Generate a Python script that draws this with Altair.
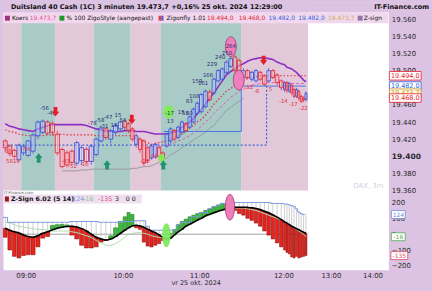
import altair as alt
import pandas as pd

FONT = "DejaVu Sans"
BG = "#dcc3e3"
PINK = "#e3c8da"
TEAL = "#a9cbc7"
UP = "#3d52d6"
DOWN = "#e3283a"
NAVY = "#2b2b74"

# ---------------- data ----------------
bar_times = ["08:45", "08:48", "08:51", "08:54", "08:57", "09:00", "09:03", "09:06", "09:09", "09:12",
             "09:15", "09:18", "09:21", "09:24", "09:27", "09:30", "09:33", "09:36", "09:39", "09:42",
             "09:45", "09:48", "09:51", "09:54", "09:57", "10:00", "10:03", "10:06", "10:09", "10:12",
             "10:15", "10:18", "10:21", "10:24", "10:27", "10:30", "10:33", "10:36", "10:39", "10:42",
             "10:45", "10:48", "10:51", "10:54", "10:57", "11:00", "11:03", "11:06", "11:09", "11:12",
             "11:15", "11:18", "11:21", "11:24", "11:27", "11:30", "11:33", "11:36", "11:39", "11:42",
             "11:45", "11:48", "11:51", "11:54", "11:57", "12:00", "12:03", "12:06", "12:09", "12:12",
             "12:15", "12:18", "12:21", "12:24", "12:27"]
open_pts = [19418, 19412, 19407, 19396, 19404, 19401, 19406, 19424, 19428, 19440,
            19438, 19426, 19408, 19404, 19406, 19392, 19395, 19408, 19394, 19402,
            19418, 19432, 19420, 19428, 19432, 19441, 19438, 19432, 19414, 19420,
            19418, 19410, 19398, 19400, 19410, 19404, 19412, 19418, 19430, 19422,
            19428, 19438, 19434, 19440, 19450, 19452, 19458, 19475, 19474, 19488,
            19490, 19498, 19505, 19516, 19512, 19492, 19500, 19490, 19488, 19498,
            19494, 19488, 19500, 19495, 19488, 19478, 19486, 19476, 19483, 19478,
            19470, 19476, 19470, 19468, 19466]
close_pts = [19410, 19403, 19400, 19413, 19412, 19418, 19425, 19440, 19441, 19427,
             19428, 19404, 19388, 19390, 19393, 19416, 19410, 19394, 19412, 19420,
             19433, 19422, 19430, 19436, 19440, 19434, 19430, 19420, 19424, 19408,
             19392, 19395, 19412, 19414, 19400, 19398, 19426, 19432, 19420, 19434,
             19440, 19430, 19446, 19455, 19462, 19472, 19476, 19466, 19490, 19500,
             19502, 19510, 19514, 19500, 19496, 19500, 19492, 19498, 19500, 19490,
             19484, 19500, 19492, 19486, 19480, 19486, 19477, 19485, 19474, 19470,
             19478, 19468, 19464, 19466, 19473.7]
high_pts = [19420, 19414, 19409, 19415, 19414, 19419, 19427, 19442, 19443, 19442,
            19441, 19430, 19410, 19407, 19408, 19418, 19413, 19411, 19414, 19422,
            19436, 19434, 19432, 19438, 19442, 19443, 19440, 19434, 19426, 19422,
            19420, 19412, 19414, 19416, 19412, 19406, 19428, 19434, 19432, 19436,
            19442, 19440, 19448, 19457, 19464, 19474, 19478, 19478, 19492, 19502,
            19504, 19512, 19516, 19519, 19514, 19503, 19502, 19500, 19502, 19500,
            19496, 19503, 19502, 19497, 19490, 19488, 19488, 19487, 19485, 19480,
            19480, 19478, 19472, 19470, 19476]
low_pts = [19405, 19400, 19397, 19394, 19401, 19399, 19403, 19420, 19426, 19425,
           19424, 19401, 19386, 19387, 19390, 19389, 19390, 19392, 19390, 19400,
           19416, 19419, 19415, 19425, 19430, 19431, 19427, 19417, 19410, 19404,
           19389, 19392, 19396, 19397, 19398, 19395, 19410, 19415, 19418, 19420,
           19425, 19428, 19432, 19438, 19448, 19450, 19456, 19464, 19472, 19486,
           19488, 19496, 19503, 19498, 19493, 19490, 19490, 19487, 19486, 19487,
           19482, 19486, 19490, 19483, 19477, 19475, 19474, 19474, 19472, 19468,
           19468, 19465, 19462, 19463, 19464]
ma_purple = [19438, 19435, 19434, 19432, 19431, 19430, 19429, 19432, 19434, 19436,
             19437, 19437, 19437, 19437, 19437, 19437, 19437, 19436, 19434, 19432,
             19431, 19429, 19429, 19429, 19429, 19430, 19430, 19430, 19429, 19429,
             19429, 19428, 19427, 19426, 19426, 19426, 19426, 19427, 19428, 19430,
             19434, 19437, 19440, 19444, 19450, 19455, 19461, 19468, 19474, 19481,
             19488, 19495, 19499, 19502, 19506, 19508, 19511, 19513, 19514, 19515,
             19515, 19514, 19513, 19510, 19508, 19507, 19504, 19503, 19502, 19500,
             19498, 19495, 19492, 19489, 19487]
zigo_red = [19431, 19429, 19428, 19426, 19425, 19424, 19424, 19424, 19424, 19425,
            19425, 19425, 19426, 19425, 19425, 19425, 19425, 19425, 19425, 19424,
            19424, 19424, 19424, 19424, 19424, 19424, 19424, 19424, 19421, 19420,
            19417, 19416, 19414, 19415, 19416, 19417, 19418, 19420, 19422, 19424,
            19426, 19429, 19433, 19436, 19440, 19443, 19448, 19454, 19461, 19466,
            19471, 19476, 19479, 19483, 19486, 19488, 19491, 19492, 19493, 19494,
            19494, 19494, 19494, 19494, 19494, 19494, 19494, 19494, 19494, 19494,
            19494, 19494, 19494, 19494, 19494]
# pink dashed line, bars 10:27 .. 12:27
zigo_pink = [19411, 19412, 19413, 19414, 19416, 19418, 19419, 19422, 19424, 19427,
             19431, 19435, 19440, 19444, 19450, 19455, 19459, 19464, 19469, 19472,
             19476, 19478, 19480, 19483, 19484, 19485, 19486, 19486, 19486, 19486,
             19486, 19486, 19486, 19486, 19485, 19485, 19485, 19485, 19485, 19485, 19485]
# gray line, bars 09:21 .. 11:30
gray_ma = [19383, 19383, 19383, 19383, 19384, 19384, 19385, 19385, 19385, 19385,
           19385, 19385, 19385, 19385, 19385, 19386, 19386, 19387, 19388, 19388,
           19389, 19391, 19393, 19396, 19398, 19402, 19404, 19407, 19410, 19413,
           19416, 19419, 19422, 19425, 19428, 19433, 19436, 19442, 19448, 19454,
           19457, 19461, 19464, 19468]
blue_solid_t = ["10:32", "11:30", "11:30", "12:28"]
blue_solid_p = [19429, 19429, 19482, 19482]
blue_dot_t = ["08:45", "11:48", "11:48"]
blue_dot_p = [19413, 19413, 19484]

band_start = ["08:45", "08:57", "09:18", "09:42", "10:06", "10:30", "11:30"]
band_end = ["08:57", "09:18", "09:42", "10:06", "10:30", "11:30", "12:31"]
band_kind = ["roze", "groen", "roze", "groen", "roze", "groen", "roze"]

# Z-sign panel
z_signal = [37, 25, 15, 8, -5, -15, -19, -10, 6, 15,
            28, 38, 44, 48, 50, 45, 35, 20, 0, -19,
            -30, -37, -31, -15, 6, 25, 40, 52, 56, 52,
            44, 32, 20, 10, -5, -20, -30, -25, -5, 15,
            30, 50, 62, 75, 88, 100, 115, 125, 135, 145,
            152, 160, 165, 169, 170, 170, 169, 167, 162, 155,
            145, 135, 122, 108, 92, 78, 70, 60, 50, 42,
            35, 28, 20, 12, 6]
z_hist = [-20, -100, -140, -150, -135, -130, -130, -80, -25, -15,
          55, 60, 62, 58, -6, -30, -70, -87, -87, -80,
          -50, -40, -10, 40, 80, 110, 137, 125, 40, 30,
          -50, -75, -81, -70, -60, -40, -20, 5, 30, 60,
          80, 95, 110, 120, 130, 137, 150, 160, 170, 185,
          194, 190, 181, 150, 130, 120, 100, 87, 70, 50,
          20, -6, -30, -55, -80, -100, -115, -125, -144, -150,
          -140, -150, -145, -140, -135]
z_upper = [106, 75, 75, 75, 75, 75, 75, 75, 75, 75,
           75, 75, 75, 75, 80, 80, 80, 80, 80, 80,
           75, 75, 75, 75, 75, 80, 80, 80, 85, 85,
           85, 50, 25, 25, 25, 25, 25, 25, 25, 60,
           75, 75, 75, 110, 110, 137, 137, 160, 175, 180,
           194, 194, 194, 200, 200, 200, 200, 200, 200, 200,
           200, 200, 194, 194, 194, 190, 190, 185, 180, 175,
           160, 140, 130, 125, 124]
z_light = [75, 70, 60, 50, 45, 40, 35, 30, 30, 25,
           20, 20, 20, 20, 15, 10, 0, -10, -20, -40,
           -55, -70, -70, -60, -40, -20, 0, 5, 10, 10,
           5, 0, -10, -15, -20, -20, -15, -10, 0, 15,
           30, 45, 60, 75, 90, 100, 110, 120, 130, 140,
           150, 155, 160, 165, 165, 165, 160, 155, 150, 140,
           130, 120, 110, 100, 90, 80, 70, 60, 50, 40,
           30, 20, 10, 0, -16]

# small number labels on the price chart (time in hours, price)
navy_t = [9.194, 9.265, 9.684, 9.765, 9.847, 9.806, 9.908, 9.949, 10.0, 10.61, 10.62,
          10.766, 10.818, 10.87, 10.87, 10.935, 10.974, 11.047, 11.106, 11.153, 11.25, 11.33, 11.376]
navy_p = [19456, 19450, 19439, 19442, 19446, 19435, 19437, 19448, 19442, 19450, 19441,
          19452, 19450, 19450, 19464, 19470, 19488, 19485, 19495, 19508, 19516, 19521, 19529]
navy_s = ["-56", "-45", "-78", "-58", "-47", "-31", "18", "15", "54", "-17", "13",
          "15", "53", "60", "83", "108", "159", "161", "166", "229", "240", "250", "264"]
red_t = [8.804, 8.859, 9.0, 9.408, 9.48, 9.602, 10.286, 10.416, 11.588, 11.682, 11.847, 12.0, 12.21, 12.42]
red_p = [19406, 19395, 19409, 19395, 19389, 19391, 19395, 19400, 19481, 19476, 19478, 19464, 19461, 19456]
red_s = ["58", "5819", "-54", "-43", "-51", "-16", "-12", "61", "-12", "-8", "5", "-14", "-17", "-22"]

arrow_down_t = [9.306, 10.117, 11.765]
arrow_down_p = [19452, 19443, 19512]
arrow_up_t = [9.133, 9.837, 10.53]
arrow_up_p = [19398, 19390, 19390]
pink_ell_t = [11.376, 11.47]
pink_ell_p = [19528, 19489]
green_blob_t = [10.6]
green_blob_p = [19452]
green_dot_t = [10.506]
green_dot_p = [19398]
zpink_ell_t = [11.365]
zpink_ell_v = [170]
zgreen_ell_t = [10.57]
zgreen_ell_v = [-6]

# ---------------- frames ----------------
def hours(s):
    h, m = s.split(":")
    return int(h) + int(m) / 60.0

bars = pd.DataFrame({"time": bar_times, "o": open_pts, "c": close_pts, "h": high_pts, "l": low_pts,
                     "ma": ma_purple, "zr": zigo_red, "sig": z_signal, "z": z_hist,
                     "zu": z_upper, "lg": z_light})
bars["t"] = bars["time"].map(hours)
bars["t0"] = bars["t"] + 0.004
bars["t1"] = bars["t"] + 0.046
bars["tm"] = bars["t"] + 0.025
bars["lo"] = bars[["o", "c"]].min(axis=1)
bars["hi"] = bars[["o", "c"]].max(axis=1)

pink_df = pd.DataFrame({"tm": bars["tm"].values[34:], "p": zigo_pink})
gray_df = pd.DataFrame({"tm": bars["tm"].values[12:56], "p": gray_ma})
blue_solid = pd.DataFrame({"t": [hours(s) for s in blue_solid_t], "p": blue_solid_p,
                           "seq": list(range(len(blue_solid_t)))})
blue_dot = pd.DataFrame({"t": [hours(s) for s in blue_dot_t], "p": blue_dot_p,
                         "seq": list(range(len(blue_dot_t)))})
bands = pd.DataFrame({"t0": [hours(s) for s in band_start], "t1": [hours(s) for s in band_end],
                      "kind": band_kind})
navy_df = pd.DataFrame({"t": navy_t, "p": navy_p, "s": navy_s})
red_df = pd.DataFrame({"t": red_t, "p": red_p, "s": red_s})
ONE = pd.DataFrame({"a": [0]})

# ---------------- scales / axes ----------------
XS = alt.Scale(domain=[8.75, 9, 10, 11, 12, 13, 14, 14.38],
               range=[0, 23, 121, 198, 283, 331, 373, 389], nice=False, zero=False)
YS = alt.Scale(domain=[19360, 19579.7], nice=False, zero=False)
ZS = alt.Scale(domain=[-225, 275], nice=False, zero=False)

YA = alt.Axis(orient="right", values=list(range(19360, 19561, 20)),
              labelExpr="replace(format(datum.value, ',.0f'), ',', '.')",
              labelFont=FONT, labelFontSize={"condition": {"test": "datum.value == 19400", "value": 7.6}, "value": 7},
              labelColor="#2a2a2a",
              labelFontWeight={"condition": {"test": "datum.value == 19400", "value": "bold"}, "value": "normal"},
              ticks=False, domain=False, grid=False, labelPadding=3, labelFlush=False,
              labelOverlap=False, minExtent=43, maxExtent=43, zindex=0)
ZA = alt.Axis(orient="right", values=[-200, -100, 0, 100, 200],
              labelFont=FONT, labelFontSize=7, labelColor="#2a2a2a",
              ticks=False, domain=False, grid=False, labelPadding=3, labelFlush=False,
              labelOverlap=False, minExtent=43, maxExtent=43, zindex=0)
XA = alt.Axis(values=[9, 10, 11, 12, 13, 14],
              labelExpr="(datum.value < 10 ? '0' : '') + datum.value + ':00'",
              labelFont=FONT, labelFontSize=7, labelColor="#2a2a2a",
              ticks=False, domain=False, grid=False, labelPadding=2, labelFlush=False,
              title="vr 25 okt. 2024", titleFont=FONT, titleFontSize=6.5, titleFontWeight="normal",
              titleColor="#2a2a2a", titlePadding=1, zindex=0)


def X(f):
    return alt.X(f, type="quantitative", scale=XS, axis=None)


def XB(f):
    return alt.X(f, type="quantitative", scale=XS, axis=XA)


def Y(f):
    return alt.Y(f, type="quantitative", scale=YS, axis=YA, title=None)


def Z(f):
    return alt.Y(f, type="quantitative", scale=ZS, axis=ZA, title=None)


def ellipse(rx):
    return f"M0,-1A{rx},1 0 1,1 0,1A{rx},1 0 1,1 0,-1Z"


def box(w, h):
    r = h / w
    return f"M-1,-{r:.3f}H1V{r:.3f}H-1Z"


ARROW_DOWN = "M-0.4,-1H0.4V0H0.8L0,1L-0.8,0H-0.4Z"
ARROW_UP = "M-0.4,1H0.4V0H0.8L0,-1L-0.8,0H-0.4Z"


def ptext(s, x, y, color="#111111", size=6, weight="normal", align="left"):
    return alt.Chart(ONE).mark_text(text=s, font=FONT, fontSize=size, fontWeight=weight, color=color,
                                    align=align, baseline="middle").encode(x=alt.value(x), y=alt.value(y))


def prect(x0, x1, y0, y1, color, stroke="transparent", opacity=1):
    return alt.Chart(ONE).mark_rect(color=color, stroke=stroke, strokeWidth=0.6, opacity=opacity).encode(
        x=alt.value(x0), x2=alt.value(x1), y=alt.value(y0), y2=alt.value(y1))


def tag(value, text, color, fill, yenc, w, h, xc, size):
    d = pd.DataFrame({"v": [value], "s": [text]})
    b = alt.Chart(d).mark_point(shape=box(w, h), size=w * w, filled=True, fill=fill, stroke=color,
                                strokeWidth=0.8, opacity=1).encode(x=alt.value(xc), y=yenc("v"))
    t = alt.Chart(d).mark_text(font=FONT, fontSize=size, color=color, align="center",
                               baseline="middle").encode(x=alt.value(xc), y=yenc("v"), text="s:N")
    return [b, t]


is_up = "datum.c >= datum.o"
is_dn = "datum.c < datum.o"

# ---------------- top panel ----------------
top = [
    alt.Chart(bands).mark_rect(color=PINK).encode(x=X("t0"), x2="t1").transform_filter("datum.kind == 'roze'"),
    alt.Chart(bands).mark_rect(color=TEAL).encode(x=X("t0"), x2="t1").transform_filter("datum.kind == 'groen'"),
    ptext("DAX, 3m", 384, 185, color="#d2d2de", size=7, align="right"),
    alt.Chart(gray_df).mark_line(color="#9b9b9b", strokeWidth=1).encode(x=X("tm"), y=Y("p")),
    alt.Chart(blue_solid).mark_line(color="#4a78e0", strokeWidth=1).encode(x=X("t"), y=Y("p"), order="seq:Q"),
    alt.Chart(blue_dot).mark_line(color="#3f62d8", strokeWidth=1.2, strokeDash=[2, 2]).encode(
        x=X("t"), y=Y("p"), order="seq:Q"),
    alt.Chart(bars).mark_line(color="#e0283a", strokeWidth=1.2, strokeDash=[1.5, 2]).encode(x=X("tm"), y=Y("zr")),
    alt.Chart(pink_df).mark_line(color="#e05cb0", strokeWidth=1, strokeDash=[3, 2]).encode(x=X("tm"), y=Y("p")),
    alt.Chart(bars).mark_line(color="#8e2fc4", strokeWidth=1.6).encode(x=X("tm"), y=Y("ma")),
    alt.Chart(bars).mark_rule(color=UP, strokeWidth=0.7).encode(x=X("tm"), y=Y("l"), y2="h").transform_filter(is_up),
    alt.Chart(bars).mark_rule(color=DOWN, strokeWidth=0.7).encode(x=X("tm"), y=Y("l"), y2="h").transform_filter(is_dn),
    alt.Chart(bars).mark_rect(fill="white", fillOpacity=0.35, stroke=UP, strokeWidth=0.9).encode(
        x=X("t0"), x2="t1", y=Y("lo"), y2="hi").transform_filter(is_up),
    alt.Chart(bars).mark_rect(fill="white", fillOpacity=0.35, stroke=DOWN, strokeWidth=0.9).encode(
        x=X("t0"), x2="t1", y=Y("lo"), y2="hi").transform_filter(is_dn),
    alt.Chart(pd.DataFrame({"t": green_blob_t, "p": green_blob_p})).mark_point(
        shape=ellipse(0.8), size=170, filled=True, color="#7df04a", opacity=0.9).encode(x=X("t"), y=Y("p")),
    alt.Chart(pd.DataFrame({"t": green_dot_t, "p": green_dot_p})).mark_point(
        shape=ellipse(0.8), size=70, filled=True, color="#7df04a", opacity=0.9).encode(x=X("t"), y=Y("p")),
    alt.Chart(pd.DataFrame({"t": pink_ell_t, "p": pink_ell_p})).mark_point(
        shape=ellipse(0.55), size=400, filled=True, fill="#ef7fba", stroke="#9a2a6a", strokeWidth=0.7,
        opacity=1).encode(x=X("t"), y=Y("p")),
    alt.Chart(navy_df).mark_text(font=FONT, fontSize=5.5, color=NAVY).encode(x=X("t"), y=Y("p"), text="s:N"),
    alt.Chart(red_df).mark_text(font=FONT, fontSize=5.5, color="#e03040").encode(x=X("t"), y=Y("p"), text="s:N"),
    alt.Chart(pd.DataFrame({"t": arrow_down_t, "p": arrow_down_p})).mark_point(
        shape=ARROW_DOWN, size=90, filled=True, color="#e0202a", opacity=1).encode(x=X("t"), y=Y("p")),
    alt.Chart(pd.DataFrame({"t": arrow_up_t, "p": arrow_up_p})).mark_point(
        shape=ARROW_UP, size=90, filled=True, color="#1f9470", opacity=1).encode(x=X("t"), y=Y("p")),
]
top += tag(19494.0, "19.494,0", "#e8202c", "white", Y, 32, 8.6, 406, 6.5)
top += tag(19482.0, "19.482,0", "#2f5fe0", "white", Y, 32, 8.6, 406, 6.5)
top += tag(19473.7, "19.473,7", "#c99a2e", "#fff4dc", Y, 32, 8.6, 406, 6.5)
top += tag(19468.0, "19.468,0", "#e8202c", "white", Y, 32, 8.6, 406, 6.5)
# header: title bar and legend row
top += [
    prect(0, 432, 0, 10, BG),
    prect(0, 389, 10, 21, "#f1d8ee"),
    ptext("Duitsland 40 Cash (1C) 3 minuten 19.473,7 +0,16% 25 okt. 2024 12:29:00", 8, 5.2,
          size=6.6, weight="bold"),
    ptext("IT-Finance.com", 430, 5.2, size=6.6, weight="bold", align="right"),
    prect(2, 7, 13.5, 18.5, "#a0307c"),
    ptext("Koers", 9, 16, size=6),
    ptext("19.473,7", 27, 16, color="#e8508a", size=6),
    prect(57, 62, 13.5, 18.5, "#1d9a2a"),
    ptext("% 100 ZigoStyle (aangepast)", 64, 16, size=6),
    prect(157, 160, 13.5, 18.5, "#e04040"),
    prect(160, 162, 13.5, 18.5, "#4060e0"),
    ptext("Zigonfly 1.01", 165, 16, size=6),
    ptext("19.494,0", 206, 16, color="#e8202c", size=6),
    ptext("19.468,0", 238, 16, color="#e8202c", size=6),
    ptext("19.482,0", 268, 16, color="#2f5fe0", size=6),
    ptext("19.482,0", 298, 16, color="#2f5fe0", size=6),
    ptext("19.473,7", 328, 16, color="#d0aa50", size=6),
    prect(358, 363, 13.5, 18.5, "#8f78a8"),
    ptext("Z-sign", 364, 16, size=6),
]
top_chart = alt.layer(*top).properties(width=389, height=190)

# ---------------- bottom panel ----------------
zero_df = pd.DataFrame({"a": [8.75], "b": [12.5], "v": [0]})
is_green = "datum.z >= datum.sig"
is_red = "datum.z < datum.sig"
bottom = [
    alt.Chart(zero_df).mark_rule(color="#8a8a8a", strokeWidth=0.8).encode(x=XB("a"), x2="b", y=Z("v")),
    alt.Chart(bars).mark_rule(color="#a0a0a8", strokeWidth=0.5).encode(x=XB("tm"), y=Z("zu"), y2="sig"),
    alt.Chart(bars).mark_rect(fill="#e8231c", stroke="#7a1010", strokeWidth=0.5).encode(
        x=XB("t0"), x2="t1", y=Z("sig"), y2="z").transform_filter(is_red),
    alt.Chart(bars).mark_rect(fill="#3dbb3d", stroke="#1d6b1d", strokeWidth=0.5).encode(
        x=XB("t0"), x2="t1", y=Z("sig"), y2="z").transform_filter(is_green),
    alt.Chart(bars).mark_line(color="#b4dcae", strokeWidth=1).encode(x=XB("tm"), y=Z("lg")),
    alt.Chart(bars).mark_line(color="#7c98e2", strokeWidth=1, interpolate="step-after").encode(x=XB("t"), y=Z("zu")),
    alt.Chart(bars).mark_line(color="#000000", strokeWidth=1.6, interpolate="monotone").encode(x=XB("tm"), y=Z("sig")),
    alt.Chart(pd.DataFrame({"t": zgreen_ell_t, "v": zgreen_ell_v})).mark_point(
        shape=ellipse(0.35), size=576, filled=True, color="#80e860", opacity=0.95).encode(x=XB("t"), y=Z("v")),
    alt.Chart(pd.DataFrame({"t": zpink_ell_t, "v": zpink_ell_v})).mark_point(
        shape=ellipse(0.36), size=676, filled=True, fill="#ef7fba", stroke="#9a2a6a", strokeWidth=0.7,
        opacity=1).encode(x=XB("t"), y=Z("v")),
]
bottom += tag(124, "124", "#7088e0", "white", Z, 14, 8, 399, 6)
bottom += tag(-16, "-16", "#4fae4f", "white", Z, 14, 8, 399, 6)
bottom += tag(-135, "-135", "#e04a64", "white", Z, 17, 8, 400, 6)
bottom += [
    ptext("IT-Finance.com", 1, 2.2, color="#555555", size=4),
    prect(0, 140, 4, 13, "#efdff0"),
    prect(2, 6, 6, 11, "#a01818"),
    ptext("Z-Sign 6.02 (5 14)", 8, 8.5, size=6.3, weight="bold"),
    ptext("124", 70, 8.5, color="#8094e0", size=6.3),
    ptext("-16", 81, 8.5, color="#80c080", size=6.3),
    ptext("-135", 96, 8.5, color="#e05070", size=6.3),
    ptext("3", 113, 8.5, size=6.3),
    ptext("0 0", 124, 8.5, size=6.3),
    # invisible frame so the canvas covers the whole 432 x 291 window
    prect(0, 432, 80, 101, BG, opacity=0),
]
bottom_chart = alt.layer(*bottom).properties(width=389, height=80)

chart = alt.vconcat(top_chart, bottom_chart, spacing=0, bounds="flush").properties(
    padding={"left": 0, "right": 0, "top": 0, "bottom": 0}
).configure(background=BG).configure_view(stroke="transparent", fill="white")

chart.save("out.html", embed_options={"renderer": "svg", "actions": False})
